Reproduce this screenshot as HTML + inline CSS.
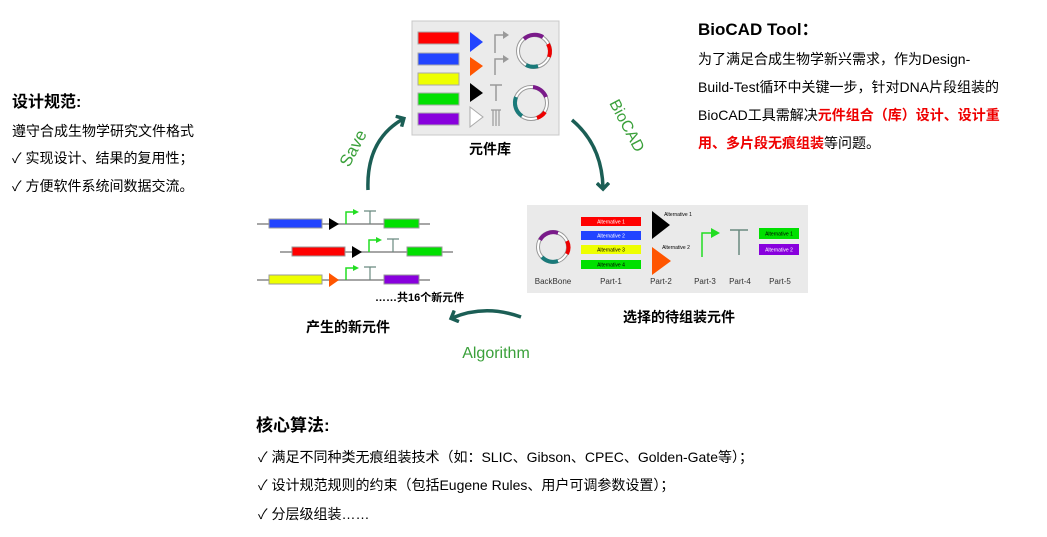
<!DOCTYPE html>
<html><head><meta charset="utf-8"><style>
body{margin:0;background:#fff;}
svg{display:block;font-family:"Liberation Sans","Noto Sans CJK SC",sans-serif;}
</style></head><body>
<svg width="1047" height="537" viewBox="0 0 1047 537">
<defs>
<marker id="ah" markerWidth="14" markerHeight="14" refX="6" refY="7" orient="auto" markerUnits="userSpaceOnUse"><path d="M1,1 L7,7 L1,13" fill="none" stroke="#1b5e55" stroke-width="3.5"/></marker>
</defs>
<g fill="#000">
<text x="12" y="107" font-size="16" font-weight="bold">设计规范:</text>
<text x="12" y="136" font-size="14">遵守合成生物学研究文件格式</text>
<text x="12" y="163" font-size="14">✓  实现设计、结果的复用性；</text>
<text x="12" y="191" font-size="14">✓  方便软件系统间数据交流。</text>
</g>
<g>
<rect x="412" y="21" width="147" height="114" fill="#ebebeb" stroke="#c8c8c8"/>
<rect x="418" y="32" width="41" height="12" fill="#f00" stroke="#aaa"/>
<rect x="418" y="53" width="41" height="12" fill="#2244ff" stroke="#aaa"/>
<rect x="418" y="73" width="41" height="12" fill="#eeff00" stroke="#aaa"/>
<rect x="418" y="93" width="41" height="12" fill="#00e000" stroke="#aaa"/>
<rect x="418" y="113" width="41" height="12" fill="#8800dd" stroke="#aaa"/>
<path d="M470,32 L483,42 L470,52Z" fill="#2244ff"/>
<path d="M470,57 L483,66 L470,76Z" fill="#ff5500"/>
<path d="M470,83 L483,93 L470,102Z" fill="#000"/>
<path d="M470,107 L483,117 L470,127Z" fill="#fff" stroke="#aaa"/>
<path d="M495,53 V35 H504" stroke="#999" stroke-width="1.5" fill="none"/><path d="M503,31 L509,35 L503,39Z" fill="#999"/>
<path d="M495,75 V59 H504" stroke="#999" stroke-width="1.5" fill="none"/><path d="M503,55 L509,59 L503,63Z" fill="#999"/>
<path d="M490,85 H502 M496,85 V101" stroke="#999" stroke-width="1.5"/>
<path d="M491,110 H501 M493,110 V126 M496,110 V126 M499,110 V126" stroke="#999" stroke-width="1.2"/>
<circle cx="534" cy="51" r="16" fill="none" stroke="#999" stroke-width="4"/><circle cx="534" cy="51" r="16" fill="none" stroke="#fff" stroke-width="2"/>
<path d="M524,39 A16,16 0 0 1 543,37" stroke="#7a1a8a" stroke-width="4" fill="none"/>
<path d="M548,44 A16,16 0 0 1 549,57" stroke="#e00" stroke-width="4" fill="none"/>
<path d="M526,65 A16,16 0 0 0 538,66" stroke="#1a7a7a" stroke-width="4" fill="none"/>
<circle cx="531" cy="103" r="16" fill="none" stroke="#999" stroke-width="4"/><circle cx="531" cy="103" r="16" fill="none" stroke="#fff" stroke-width="2"/>
<path d="M533,87 A16,16 0 0 1 546,97" stroke="#7a1a8a" stroke-width="4" fill="none"/>
<path d="M545,112 A16,16 0 0 1 537,118" stroke="#e00" stroke-width="4" fill="none"/>
<path d="M516,97 A16,16 0 0 0 522,116" stroke="#1a7a7a" stroke-width="4" fill="none"/>
</g>
<text x="490" y="154" font-size="14" font-weight="bold" text-anchor="middle">元件库</text>
<g font-size="5" text-anchor="middle">
<rect x="527" y="205" width="281" height="88" fill="#eaeaea"/>
<circle cx="553" cy="247" r="15" fill="none" stroke="#999" stroke-width="4"/><circle cx="553" cy="247" r="15" fill="none" stroke="#fff" stroke-width="2"/>
<path d="M540,240 A15,15 0 0 1 558,233" stroke="#7a1a8a" stroke-width="4" fill="none"/>
<path d="M567,241 A15,15 0 0 1 567,254" stroke="#e00" stroke-width="4" fill="none"/>
<path d="M542,257 A15,15 0 0 0 558,261" stroke="#1a7a7a" stroke-width="4" fill="none"/>
<rect x="581" y="217" width="60" height="9" fill="#f00"/><text x="611" y="223.5" fill="#fff">Alternative 1</text>
<rect x="581" y="231" width="60" height="9" fill="#2244ff"/><text x="611" y="237.5" fill="#fff">Alternative 2</text>
<rect x="581" y="245" width="60" height="9" fill="#eeff00"/><text x="611" y="251.5">Alternative 3</text>
<rect x="581" y="260" width="60" height="9" fill="#00e000"/><text x="611" y="266.5">Alternative 4</text>
<path d="M652,211 L670,225 L652,239Z" fill="#000"/><text x="678" y="216">Alternative 1</text>
<path d="M652,247 L671,261 L652,275Z" fill="#ff5500"/><text x="676" y="249">Alternative 2</text>
<path d="M702,257 V233 H713" stroke="#22dd22" stroke-width="1.5" fill="none"/><path d="M711,228 L720,233 L711,238Z" fill="#22dd22"/>
<path d="M730,230 H748 M739,230 V255" stroke="#6a8a80" stroke-width="1.5"/>
<rect x="759" y="228" width="40" height="11" fill="#00e000"/><text x="779" y="235.5">Alternative 1</text>
<rect x="759" y="244" width="40" height="11" fill="#8800dd"/><text x="779" y="251.5" fill="#fff">Alternative 2</text>
<g font-size="8" fill="#333"><text x="553" y="284">BackBone</text><text x="611" y="284">Part-1</text><text x="661" y="284">Part-2</text><text x="705" y="284">Part-3</text><text x="740" y="284">Part-4</text><text x="780" y="284">Part-5</text></g>
</g>
<text x="679" y="322" font-size="14" font-weight="bold" text-anchor="middle">选择的待组装元件</text>
<g>
<line x1="257" y1="224" x2="430" y2="224" stroke="#888" stroke-width="1.5"/>
<rect x="269" y="219" width="53" height="9" fill="#2244ff" stroke="#999"/><path d="M329,218 L339,224 L329,230Z" fill="#000"/>
<path d="M346,224 V212 H354" stroke="#22dd22" stroke-width="1.5" fill="none"/><path d="M353,209 L359,212 L353,215Z" fill="#22dd22"/>
<path d="M364,211 H376 M370,211 V224" stroke="#6a8a80" stroke-width="1.2"/>
<rect x="384" y="219" width="35" height="9" fill="#00e000" stroke="#999"/>
<line x1="280" y1="252" x2="453" y2="252" stroke="#888" stroke-width="1.5"/>
<rect x="292" y="247" width="53" height="9" fill="#f00" stroke="#999"/><path d="M352,246 L362,252 L352,258Z" fill="#000"/>
<path d="M369,252 V240 H377" stroke="#22dd22" stroke-width="1.5" fill="none"/><path d="M376,237 L382,240 L376,243Z" fill="#22dd22"/>
<path d="M387,239 H399 M393,239 V252" stroke="#6a8a80" stroke-width="1.2"/>
<rect x="407" y="247" width="35" height="9" fill="#00e000" stroke="#999"/>
<line x1="257" y1="280" x2="430" y2="280" stroke="#888" stroke-width="1.5"/>
<rect x="269" y="275" width="53" height="9" fill="#eeff00" stroke="#999"/><path d="M329,273 L339,280 L329,287Z" fill="#ff5500"/>
<path d="M346,280 V268 H354" stroke="#22dd22" stroke-width="1.5" fill="none"/><path d="M353,265 L359,268 L353,271Z" fill="#22dd22"/>
<path d="M364,267 H376 M370,267 V280" stroke="#6a8a80" stroke-width="1.2"/>
<rect x="384" y="275" width="35" height="9" fill="#8800dd" stroke="#999"/>
<text x="375" y="301" font-size="11" font-weight="bold">……共16个新元件</text>
</g>
<text x="348" y="332" font-size="14" font-weight="bold" text-anchor="middle">产生的新元件</text>
<path d="M368,190 Q366,140 403,119" stroke="#1b5e55" stroke-width="3.5" fill="none" marker-end="url(#ah)"/>
<path d="M572,120 Q602,145 603,188" stroke="#1b5e55" stroke-width="3.5" fill="none" marker-end="url(#ah)"/>
<path d="M521,317 Q485,304 452,318" stroke="#1b5e55" stroke-width="3.5" fill="none" marker-end="url(#ah)"/>
<text x="0" y="0" font-size="17" fill="#3aa03a" transform="translate(349,168) rotate(-62)">Save</text>
<text x="0" y="0" font-size="16" fill="#3aa03a" transform="translate(609,103) rotate(62)">BioCAD</text>
<text x="496" y="358" font-size="16" fill="#3aa03a" text-anchor="middle">Algorithm</text>
<g font-size="14">
<text x="698" y="35" font-size="17" font-weight="bold">BioCAD Tool：</text>
<text x="698" y="64">为了满足合成生物学新兴需求，作为Design-</text>
<text x="698" y="92">Build-Test循环中关键一步，针对DNA片段组装的</text>
<text x="698" y="120">BioCAD工具需解决<tspan fill="#e00" font-weight="bold">元件组合（库）设计、设计重</tspan></text>
<text x="698" y="148"><tspan fill="#e00" font-weight="bold">用、多片段无痕组装</tspan>等问题。</text>
</g>
<g font-size="14">
<text x="256" y="431" font-size="17" font-weight="bold">核心算法:</text>
<text x="258" y="462">✓  满足不同种类无痕组装技术（如：SLIC、Gibson、CPEC、Golden-Gate等）；</text>
<text x="258" y="490">✓  设计规范规则的约束（包括Eugene Rules、用户可调参数设置）；</text>
<text x="258" y="519">✓  分层级组装……</text>
</g>
</svg>
</body></html>
